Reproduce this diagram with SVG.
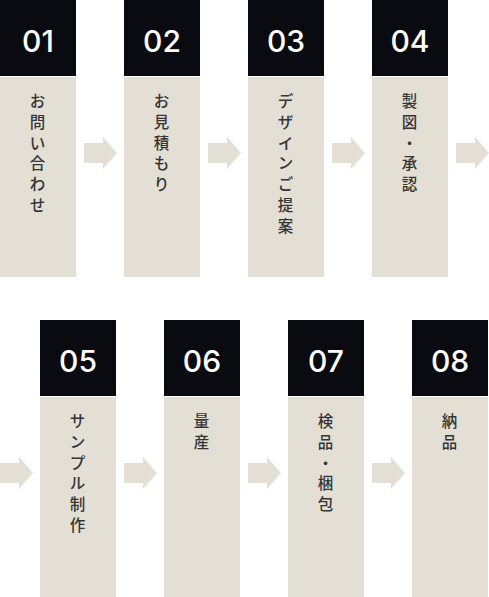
<svg xmlns="http://www.w3.org/2000/svg" width="489" height="597" viewBox="0 0 489 597">
<style>
.hd{fill:#0a0b10}
.bd{fill:#e3dfd5}
.ar{fill:#e3dfd5}
.num{font-family:Inter,"Liberation Sans",sans-serif;font-size:30px;font-weight:500;fill:#ffffff;text-anchor:middle}
.lb{font-family:"Noto Sans CJK JP","Noto Sans",sans-serif;font-size:15.5px;font-weight:500;fill:#353535;text-anchor:middle}
</style>
<defs>
<path id="arrow" d="M0,-10 H19 V-16 L33,0 L19,16 V10 H0 Z"/>
</defs>
<rect width="489" height="597" fill="#ffffff"/>
<g id="connectors">
<use href="#arrow" class="ar" x="84" y="153"/>
<use href="#arrow" class="ar" x="208" y="153"/>
<use href="#arrow" class="ar" x="332" y="153"/>
<use href="#arrow" class="ar" x="456" y="153"/>
<use href="#arrow" class="ar" x="0" y="473"/>
<use href="#arrow" class="ar" x="124" y="473"/>
<use href="#arrow" class="ar" x="248" y="473"/>
<use href="#arrow" class="ar" x="372" y="473"/>
</g>
<g id="step01">
<rect class="hd" x="0" y="0" width="76" height="76"/>
<rect class="bd" x="0" y="77" width="76" height="200"/>
<text class="num" x="38" y="52">01</text>
<text class="lb"><tspan x="37.5" y="107">お</tspan><tspan x="37.5" y="127.8">問</tspan><tspan x="37.5" y="148.6">い</tspan><tspan x="37.5" y="169.4">合</tspan><tspan x="37.5" y="190.2">わ</tspan><tspan x="37.5" y="211">せ</tspan></text>
</g>
<g id="step02">
<rect class="hd" x="124" y="0" width="76" height="76"/>
<rect class="bd" x="124" y="77" width="76" height="200"/>
<text class="num" x="162" y="52">02</text>
<text class="lb"><tspan x="161.5" y="107">お</tspan><tspan x="161.5" y="127.8">見</tspan><tspan x="161.5" y="148.6">積</tspan><tspan x="161.5" y="169.4">も</tspan><tspan x="161.5" y="190.2">り</tspan></text>
</g>
<g id="step03">
<rect class="hd" x="248" y="0" width="76" height="76"/>
<rect class="bd" x="248" y="77" width="76" height="200"/>
<text class="num" x="286" y="52">03</text>
<text class="lb"><tspan x="285.5" y="107">デ</tspan><tspan x="285.5" y="127.8">ザ</tspan><tspan x="285.5" y="148.6">イ</tspan><tspan x="285.5" y="169.4">ン</tspan><tspan x="285.5" y="190.2">ご</tspan><tspan x="285.5" y="211">提</tspan><tspan x="285.5" y="231.8">案</tspan></text>
</g>
<g id="step04">
<rect class="hd" x="372" y="0" width="76" height="76"/>
<rect class="bd" x="372" y="77" width="76" height="200"/>
<text class="num" x="410" y="52">04</text>
<text class="lb"><tspan x="409.5" y="107">製</tspan><tspan x="409.5" y="127.8">図</tspan><tspan x="409.5" y="148.6">・</tspan><tspan x="409.5" y="169.4">承</tspan><tspan x="409.5" y="190.2">認</tspan></text>
</g>
<g id="step05">
<rect class="hd" x="40" y="320" width="76" height="76"/>
<rect class="bd" x="40" y="397" width="76" height="200"/>
<text class="num" x="78" y="372">05</text>
<text class="lb"><tspan x="77.5" y="427">サ</tspan><tspan x="77.5" y="447.8">ン</tspan><tspan x="77.5" y="468.6">プ</tspan><tspan x="77.5" y="489.4">ル</tspan><tspan x="77.5" y="510.2">制</tspan><tspan x="77.5" y="531">作</tspan></text>
</g>
<g id="step06">
<rect class="hd" x="164" y="320" width="76" height="76"/>
<rect class="bd" x="164" y="397" width="76" height="200"/>
<text class="num" x="202" y="372">06</text>
<text class="lb"><tspan x="201.5" y="427">量</tspan><tspan x="201.5" y="447.8">産</tspan></text>
</g>
<g id="step07">
<rect class="hd" x="288" y="320" width="76" height="76"/>
<rect class="bd" x="288" y="397" width="76" height="200"/>
<text class="num" x="326" y="372">07</text>
<text class="lb"><tspan x="325.5" y="427">検</tspan><tspan x="325.5" y="447.8">品</tspan><tspan x="325.5" y="468.6">・</tspan><tspan x="325.5" y="489.4">梱</tspan><tspan x="325.5" y="510.2">包</tspan></text>
</g>
<g id="step08">
<rect class="hd" x="412" y="320" width="76" height="76"/>
<rect class="bd" x="412" y="397" width="76" height="200"/>
<text class="num" x="450" y="372">08</text>
<text class="lb"><tspan x="449.5" y="427">納</tspan><tspan x="449.5" y="447.8">品</tspan></text>
</g>
</svg>
